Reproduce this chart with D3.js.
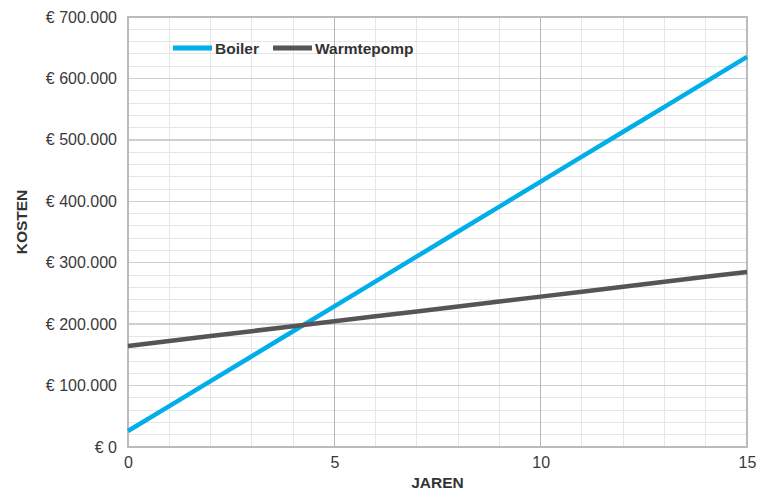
<!DOCTYPE html>
<html>
<head>
<meta charset="utf-8">
<script src="https://cdn.jsdelivr.net/npm/d3@7"></script>
<style>
  body { margin: 0; background: #fff; }
  svg { display: block; font-family: "Liberation Sans", Arial, Helvetica, sans-serif; }
</style>
</head>
<body>
<svg id="chart" width="757" height="490"></svg>
<script>
// Data
const years = [0, 1, 2, 3, 4, 5, 6, 7, 8, 9, 10, 11, 12, 13, 14, 15];
const boiler = [26000, 66600, 107200, 147800, 188400, 229000, 269600, 310200, 350800, 391400, 432000, 472600, 513200, 553800, 594400, 635000];
const warmtepomp = [164500, 172500, 180600, 188600, 196600, 204700, 212700, 220700, 228800, 236800, 244800, 252900, 260900, 268900, 277000, 285000];
const seriesNames = ["Boiler", "Warmtepomp"];
const xTicks = [0, 5, 10, 15];
const yTicks = [0, 100000, 200000, 300000, 400000, 500000, 600000, 700000];
const yTickLabels = ["€ 0", "€ 100.000", "€ 200.000", "€ 300.000", "€ 400.000", "€ 500.000", "€ 600.000", "€ 700.000"];
const xTitle = "JAREN";
const yTitle = "KOSTEN";

const colors = ["#00AEEA", "#555555"];
const svg = d3.select("#chart");
const m = { left: 128, right: 747, top: 17, bottom: 447 };

const x = d3.scaleLinear().domain([0, 15]).range([m.left, m.right]);
const y = d3.scaleLinear().domain([0, 700000]).range([m.bottom, m.top]);

const g = svg.append("g");

// minor grid
const minorX = d3.range(0, 16, 1).filter(v => v % 5 !== 0);
const minorY = d3.range(0, 700001, 20000).filter(v => v % 100000 !== 0);
g.selectAll(".mx").data(minorX).join("line")
  .attr("x1", d => x(d)).attr("x2", d => x(d))
  .attr("y1", m.top).attr("y2", m.bottom)
  .attr("stroke", "#e6e6e6").attr("stroke-width", 1).attr("shape-rendering", "crispEdges");
g.selectAll(".my").data(minorY).join("line")
  .attr("x1", m.left).attr("x2", m.right)
  .attr("y1", d => y(d)).attr("y2", d => y(d))
  .attr("stroke", "#e6e6e6").attr("stroke-width", 1).attr("shape-rendering", "crispEdges");
// major grid
g.selectAll(".My").data(yTicks.slice(1, -1)).join("line")
  .attr("x1", m.left).attr("x2", m.right)
  .attr("y1", d => y(d)).attr("y2", d => y(d))
  .attr("stroke", "#cfcfcf").attr("stroke-width", 1.5).attr("shape-rendering", "crispEdges");
g.selectAll(".Mx").data(xTicks.slice(1, -1)).join("line")
  .attr("x1", d => x(d)).attr("x2", d => x(d))
  .attr("y1", m.top).attr("y2", m.bottom)
  .attr("stroke", "#b5b5b5").attr("stroke-width", 1).attr("shape-rendering", "crispEdges");
// border
g.append("rect").attr("x", m.left).attr("y", m.top)
  .attr("width", m.right - m.left).attr("height", m.bottom - m.top)
  .attr("fill", "none").attr("stroke", "#bbbbbb").attr("stroke-width", 1.5).attr("shape-rendering", "crispEdges");

// axes via d3
const yAxis = d3.axisLeft(y).tickValues(yTicks).tickFormat((d, i) => yTickLabels[i]).tickSize(0).tickPadding(11);
const ya = svg.append("g").attr("transform", `translate(${m.left},0)`).call(yAxis);
ya.select(".domain").remove();
ya.selectAll("text").attr("font-size", 16).attr("fill", "#3a3a3a").attr("font-family", "Liberation Sans, Arial, sans-serif");

const xAxis = d3.axisBottom(x).tickValues(xTicks).tickFormat(d3.format("d")).tickSize(0).tickPadding(10);
const xa = svg.append("g").attr("transform", `translate(0,${m.bottom})`).call(xAxis);
xa.select(".domain").remove();
xa.selectAll("text").attr("font-size", 16).attr("fill", "#3a3a3a").attr("font-family", "Liberation Sans, Arial, sans-serif");

// titles
svg.append("text").attr("x", (m.left + m.right) / 2).attr("y", 488)
  .attr("text-anchor", "middle").attr("font-size", 15.5).attr("font-weight", "bold").attr("fill", "#333")
  .text(xTitle);
svg.append("text").attr("transform", "translate(27,222) rotate(-90)")
  .attr("text-anchor", "middle").attr("font-size", 15.5).attr("font-weight", "bold").attr("fill", "#333")
  .text(yTitle);

// lines
const line = d3.line().x((d, i) => x(years[i])).y(d => y(d));
[boiler, warmtepomp].forEach((s, i) => {
  svg.append("path").datum(s).attr("d", line)
    .attr("fill", "none").attr("stroke", colors[i]).attr("stroke-width", 4.5);
});

// legend
const legendX = [173, 273];
seriesNames.forEach((n, i) => {
  const lg = svg.append("g").attr("transform", `translate(${legendX[i]},48)`);
  lg.append("line").attr("x1", 0).attr("x2", 39).attr("y1", 0).attr("y2", 0)
    .attr("stroke", colors[i]).attr("stroke-width", 5);
  lg.append("text").attr("x", 42).attr("y", 5.5).attr("font-size", 15.5).attr("font-weight", "bold")
    .attr("fill", "#333").text(n);
});
</script>
</body>
</html>
